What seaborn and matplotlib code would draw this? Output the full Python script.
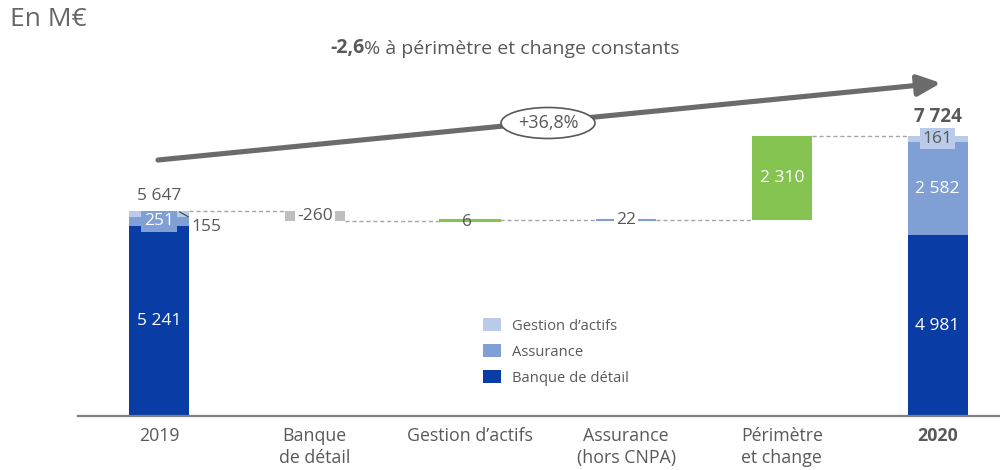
import matplotlib
matplotlib.use("Agg")
import matplotlib.pyplot as plt
import seaborn as sns
import pandas as pd
import numpy as np
from matplotlib.patches import Patch, Ellipse

# ---------------- data ----------------
categories = ["2019", "Banque\nde détail", "Gestion d’actifs",
              "Assurance\n(hors CNPA)", "Périmètre\net change", "2020"]
banque_detail = [5241, 0, 0, 0, 0, 4981]
assurance = [251, 0, 0, 0, 0, 2582]
gestion_actifs = [155, 0, 0, 0, 0, 161]
variations = [0, -260, 6, 22, 2310, 0]
total_2019 = 5647
total_2020 = 7724
growth_label = "+36,8%"
organic_bold = "-2,6"
organic_rest = "% à périmètre et change constants"
unit_label = "En M€"
legend_labels = ["Gestion d’actifs", "Assurance", "Banque de détail"]

# ---------------- style ----------------
C_BANQUE = "#0a3ca5"
C_ASSUR = "#7f9fd5"
C_GEST = "#b9cbe8"
C_GREEN = "#86c451"
C_GREYBAR = "#bfbfbf"
C_TEXT = "#595959"
var_colors = [None, C_GREYBAR, C_GREEN, C_ASSUR, C_GREEN, None]

sns.set_theme(style="white")
plt.rcParams["font.family"] = ["Open Sans", "DejaVu Sans"]

W, H = 1000, 470
fig = plt.figure(figsize=(W / 100, H / 100), dpi=100)
ax = fig.add_axes([78 / W, 54 / H, 1 - 78 / W, 1 - 54 / H])

bar_w = 0.385
x = np.arange(len(categories))

# waterfall bases
running = total_2019
var_base, var_height = [], []
for v in variations:
    if v == 0:
        var_base.append(0); var_height.append(0)
        continue
    var_base.append(min(running, running + v))
    var_height.append(abs(v))
    running += v

bd = np.array(banque_detail); asr = np.array(assurance); ga = np.array(gestion_actifs)
layers = [
    (bd, np.zeros(6), C_BANQUE),
    (asr, bd, C_ASSUR),
    (ga, bd + asr, C_GEST),
]

for heights, bottoms, col in layers:
    df = pd.DataFrame({"cat": categories, "val": heights})
    n0 = len(ax.patches)
    sns.barplot(data=df, x="cat", y="val", order=categories, color=col,
                bottom=bottoms, width=bar_w, errorbar=None, ax=ax,
                saturation=1, linewidth=0)
    for p in ax.patches[n0:]:
        p.set_facecolor(col); p.set_edgecolor("none")

dfv = pd.DataFrame({"cat": categories, "val": var_height})
n0 = len(ax.patches)
sns.barplot(data=dfv, x="cat", y="val", order=categories, color=C_GREEN,
            bottom=np.array(var_base), width=bar_w, errorbar=None, ax=ax,
            saturation=1, linewidth=0)
for i, p in enumerate(ax.patches[n0:]):
    if var_colors[i] is None:
        continue
    p.set_facecolor(var_colors[i])
    if var_height[i] < 100:
        p.set_edgecolor(var_colors[i]); p.set_linewidth(1.5)
    else:
        p.set_edgecolor("none")

for p in list(ax.patches):
    if p.get_height() == 0:
        p.remove()

ax.set_xlim(-0.520, 5.401)
ax.set_ylim(0, 11470)

# connectors
tops = [total_2019]
lvl = total_2019
for i in range(1, 5):
    lvl += variations[i]
    tops.append(lvl)
for i in range(5):
    ax.plot([x[i] + bar_w / 2, x[i + 1] - bar_w / 2], [tops[i], tops[i]],
            ls=(0, (3, 2)), color="#a6a6a6", lw=1, zorder=0)

# axis styling
for s in ["left", "right", "top"]:
    ax.spines[s].set_visible(False)
ax.spines["bottom"].set_color("#7f7f7f")
ax.spines["bottom"].set_linewidth(1.6)
ax.set_xlabel(""); ax.set_ylabel("")
ax.set_yticks([])
ax.set_xticks(x)
ax.set_xticklabels(categories, fontsize=12.8, color=C_TEXT, linespacing=1.3)
ax.get_xticklabels()[-1].set_fontweight("bold")
ax.tick_params(axis="x", length=0, pad=8)

# value labels
lab_kw = dict(ha="center", va="center", fontsize=12.5)
fmt = lambda v: f"{v:,}".replace(",", " ")
# 2019
ax.annotate(fmt(total_2019), (x[0], total_2019), xytext=(0, 15),
            textcoords="offset pixels", color=C_TEXT, **lab_kw)
ax.text(x[0], banque_detail[0] / 2, fmt(banque_detail[0]), color="white", **lab_kw)
ax.text(x[0], banque_detail[0] + assurance[0] / 2, fmt(assurance[0]), color="white",
        bbox=dict(boxstyle="square,pad=0.15", fc=C_ASSUR, ec="none"), **lab_kw)
ax.annotate(fmt(gestion_actifs[0]), (x[0] + bar_w / 2 - 0.06, total_2019 - 20),
            xytext=(27, -15), textcoords="offset pixels", color=C_TEXT,
            arrowprops=dict(arrowstyle="-", color="#404040", lw=0.8, shrinkA=0, shrinkB=0),
            **lab_kw)
# variations
for i in range(1, 5):
    txt = fmt(variations[i])
    yc = var_base[i] + var_height[i] / 2
    if i == 4:
        ax.text(x[i], yc, txt, color="white", **lab_kw)
    elif i == 2:
        ax.text(x[i] - 0.02, yc - 40, txt, color=C_TEXT, **lab_kw)
    else:
        ax.text(x[i], yc, txt, color=C_TEXT,
                bbox=dict(boxstyle="square,pad=0.12", fc="white", ec="none"), **lab_kw)
# 2020
ax.annotate(fmt(total_2020), (x[5], total_2020), xytext=(0, 19),
            textcoords="offset pixels", color=C_TEXT, fontweight="bold",
            ha="center", va="center", fontsize=13.5)
ax.text(x[5], banque_detail[5] / 2, fmt(banque_detail[5]), color="white", **lab_kw)
ax.text(x[5], banque_detail[5] + assurance[5] / 2, fmt(assurance[5]), color="white", **lab_kw)
ax.text(x[5], banque_detail[5] + assurance[5] + gestion_actifs[5] / 2, fmt(gestion_actifs[5]),
        color=C_TEXT, bbox=dict(boxstyle="square,pad=0.15", fc=C_GEST, ec="none"), **lab_kw)

# legend
handles = [Patch(fc=C_GEST, ec="none"), Patch(fc=C_ASSUR, ec="none"), Patch(fc=C_BANQUE, ec="none")]
leg = ax.legend(handles, legend_labels, loc="upper left",
                bbox_to_anchor=(483 / W, 1 - 318 / H), bbox_transform=fig.transFigure,
                frameon=False, fontsize=10.6, labelcolor=C_TEXT, borderpad=0, borderaxespad=0,
                handlelength=1.25, handleheight=1.0, handletextpad=0.75, labelspacing=0.7)

# titles
fig.text(10 / W, 1 - 19 / H, unit_label, fontsize=19, color="#666666", ha="left", va="center")
t1 = fig.text(330 / W, 1 - 48 / H, organic_bold, fontsize=14, color=C_TEXT,
              fontweight="bold", ha="left", va="center")
ax.annotate(organic_rest, xy=(1, 0), xycoords=t1, va="bottom", ha="left",
            fontsize=14, color=C_TEXT)

# growth arrow
ax.annotate("", xy=(941 / W, 1 - 83 / H), xytext=(158 / W, 1 - 160 / H),
            xycoords="figure fraction", textcoords="figure fraction",
            arrowprops=dict(arrowstyle="-|>,head_length=1.0,head_width=0.45",
                            mutation_scale=14, lw=3.7, color="#6b6b6b",
                            shrinkA=0, shrinkB=0), annotation_clip=False)
ell = Ellipse((548 / W, 1 - 123 / H), 94 / W, 31 / H, transform=fig.transFigure,
              fc="white", ec="#595959", lw=1.2, zorder=5, clip_on=False)
ax.add_patch(ell)
ax.text(548 / W, 1 - 123 / H, growth_label, transform=fig.transFigure, ha="center",
        va="center", fontsize=13, color=C_TEXT, zorder=6)

fig.savefig("out.png", dpi=100)
